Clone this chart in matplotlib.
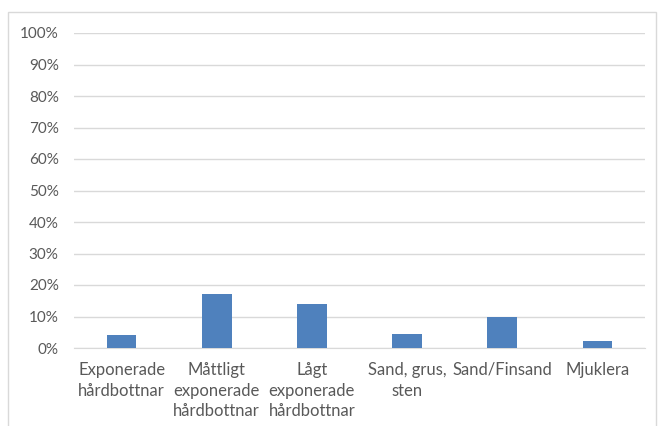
import matplotlib
matplotlib.use("Agg")
import matplotlib.pyplot as plt
from matplotlib.patches import Rectangle
from matplotlib.ticker import FuncFormatter

categories = [
    "Exponerade\nhårdbottnar",
    "Måttligt\nexponerade\nhårdbottnar",
    "Lågt\nexponerade\nhårdbottnar",
    "Sand, grus,\nsten",
    "Sand/Finsand",
    "Mjuklera",
]
values = [4.0, 17.1, 13.9, 4.3, 9.7, 2.1]
y_ticks = list(range(0, 101, 10))

plt.rcParams["font.family"] = ["Lato", "DejaVu Sans"]

W, H = 659, 426
fig = plt.figure(figsize=(W / 100, H / 100), dpi=100)
fig.patch.set_facecolor("white")

# chart area frame
fig.patches.append(Rectangle((8 / W, -0.1), (656 - 8) / W, 1.1 - 12 / H,
                             transform=fig.transFigure, fill=False,
                             edgecolor="#d9d9d9", linewidth=1.0))

left, right, bottom, top = 74, 645, 348, 33
ax = fig.add_axes([left / W, 1 - bottom / H, (right - left) / W, (bottom - top) / H])

x = range(len(categories))
ax.bar(x, values, width=0.31, color="#4F81BD", zorder=3)

ax.set_ylim(0, 100)
ax.set_xlim(-0.5, len(categories) - 0.5)
ax.set_yticks(y_ticks)
ax.yaxis.set_major_formatter(FuncFormatter(lambda v, p: f"{int(v)}%"))
ax.grid(axis="y", color="#d9d9d9", linewidth=1.0, zorder=0)
ax.set_xticks(list(x))
ax.set_xticklabels(categories, linespacing=1.36, va="top")

for s in ["top", "right", "left"]:
    ax.spines[s].set_visible(False)
ax.spines["bottom"].set_color("#d9d9d9")
ax.tick_params(axis="both", length=0, colors="#595959")
ax.tick_params(axis="y", pad=11, labelsize=11)
ax.tick_params(axis="x", pad=10, labelsize=12)

fig.savefig("out.png", dpi=100, facecolor="white")
